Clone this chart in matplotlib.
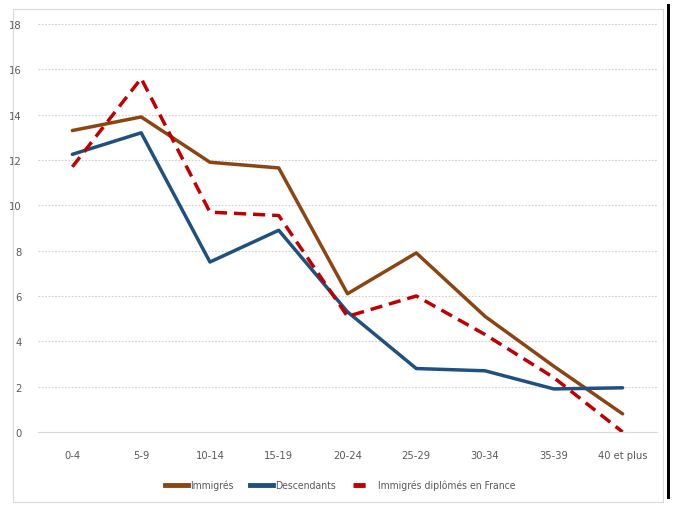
import matplotlib
matplotlib.use("Agg")
import matplotlib.pyplot as plt
from matplotlib.patches import Rectangle
from matplotlib.lines import Line2D

plt.rcParams['font.family'] = ['DejaVu Sans']
plt.rcParams['font.stretch'] = 'condensed'

ages = ["0-4", "5-9", "10-14", "15-19", "20-24", "25-29", "30-34", "35-39", "40 et plus"]
immigres = [13.3, 13.9, 11.9, 11.65, 6.1, 7.9, 5.1, 2.9, 0.8]
descendants = [12.25, 13.2, 7.5, 8.9, 5.3, 2.8, 2.7, 1.9, 1.95]
diplomes_fr = [11.7, 15.6, 9.7, 9.55, 5.1, 6.0, 4.3, 2.4, 0.0]
yticks = [0, 2, 4, 6, 8, 10, 12, 14, 16, 18]

brown = "#8B4513"
blue = "#1F5080"
red = "#C00000"
grey_txt = "#595959"

fig = plt.figure(figsize=(6.73, 5.06), dpi=100)
ax = fig.add_axes([38/673, 73/506, 619/673, 408/506])

x = range(len(ages))
ax.plot(x, immigres, color=brown, lw=2.5, label="Immigrés", solid_capstyle='round')
ax.plot(x, descendants, color=blue, lw=2.5, label="Descendants", solid_capstyle='round')
ax.plot(x, diplomes_fr, color=red, lw=2.5, dashes=(3.5, 2.0), label="Immigrés diplômés en France")

ax.set_xlim(-0.5, len(ages) - 0.5)
ax.set_ylim(0, 18)
ax.set_yticks(yticks)
ax.set_xticks(list(x))
ax.set_xticklabels(ages)
ax.tick_params(length=0, labelsize=8, colors=grey_txt)
ax.tick_params(axis='y', pad=12)
ax.tick_params(axis='x', pad=13)
for t in yticks[1:]:
    ax.axhline(t, color="#d0d0d0", lw=0.8, ls=(0, (1.5, 1.5)), zorder=0)
for s in ["top", "right", "left"]:
    ax.spines[s].set_visible(False)
ax.spines["bottom"].set_color("#d9d9d9")

handles = [Line2D([], [], color=brown, lw=3.5),
           Line2D([], [], color=blue, lw=3.5),
           Line2D([], [], color=red, lw=3.5, dashes=(2.5, 5))]
fig.legend(handles, ["Immigrés", "Descendants", "Immigrés diplômés en France"],
           loc="center", bbox_to_anchor=(340/673, 1 - 486/506), ncol=3, frameon=False,
           fontsize=7.5, handlelength=2.2, handletextpad=0.2, columnspacing=1.6,
           labelcolor=grey_txt)

# cadre du graphique et barre noire a droite
fig.add_artist(Rectangle((13/673, 1 - 503/506), 650/673, 493/506, transform=fig.transFigure,
                         fill=False, edgecolor="#d9d9d9", lw=0.8))
fig.add_artist(Rectangle((667/673, 1 - 500/506), 3/673, 495/506, transform=fig.transFigure,
                         facecolor="black", edgecolor="none"))

fig.savefig("out.png", dpi=100)
